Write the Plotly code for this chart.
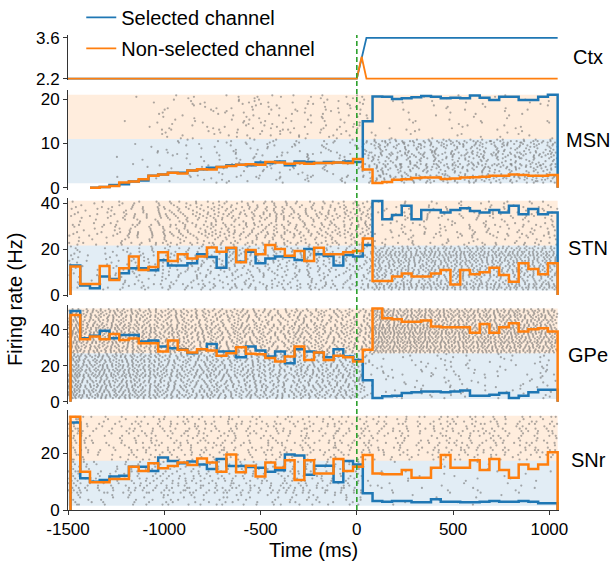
import numpy as np
import plotly.graph_objects as go
from plotly.subplots import make_subplots

# ---------------- data ----------------
# time-bin edges (ms) of the firing-rate histograms
bin_edges = [-1487, -1436.4, -1385.8, -1335.2, -1284.6, -1234, -1183.4, -1132.8, -1082.2, -1031.6,
             -981, -930.4, -879.8, -829.2, -778.6, -728, -677.4, -626.8, -576.2, -525.6,
             -475, -424.4, -373.8, -323.2, -272.6, -222, -171.4, -120.8, -70.2, -19.6,
             31, 81.6, 132.2, 182.8, 233.4, 284, 334.6, 385.2, 435.8, 486.4,
             537, 587.6, 638.2, 688.8, 739.4, 790, 840.6, 891.2, 941.8, 992.4, 1043]

msn_sel = [None, None, 0.0, 0.15, 0.6, 0.8, 1.4, 1.65, 2.7, 3.0,
           3.4, 3.4, 3.9, 4.2, 4.5, 4.7, 5.1, 5.2, 5.1, 5.7,
           5.6, 5.9, 5.1, 5.9, 5.8, 5.6, 5.8, 5.7, 5.9, 5.8,
           15.0, 20.6, 20.5, 20.0, 20.2, 20.4, 20.7, 20.5, 20.2, 20.3,
           20.2, 20.8, 20.3, 19.8, 20.5, 20.5, 19.8, 19.8, 20.5, 21.0]
msn_non = [None, None, 0.0, 0.15, 0.4, 1.2, 1.4, 1.9, 2.7, 3.0,
           3.4, 3.2, 3.9, 4.2, 4.1, 4.7, 4.9, 5.2, 5.3, 5.2,
           5.8, 5.7, 5.4, 5.6, 5.4, 5.6, 5.6, 5.7, 5.6, 6.5,
           4.1, 1.1, 1.3, 1.8, 1.9, 2.2, 2.3, 2.3, 2.0, 2.1,
           2.3, 2.4, 2.5, 2.7, 2.7, 3.0, 2.9, 2.7, 2.7, 2.9]

stn_sel = [12.8, 4.1, 2.9, 8.0, 7.0, 9.5, 11.6, 11.6, 10.8, 15.1,
           12.8, 12.8, 13.8, 17.7, 16.5, 11.9, 20.3, 14.5, 18.8, 13.8,
           15.9, 16.7, 16.5, 15.2, 20.0, 17.7, 17.0, 12.8, 17.4, 16.7,
           21.7, 40.9, 33.0, 34.8, 38.8, 33.0, 37.0, 37.0, 35.9, 37.0,
           37.7, 36.5, 35.9, 37.0, 35.9, 38.8, 35.1, 37.4, 35.1, 35.9]
stn_non = [12.4, 4.8, 4.8, 12.6, 6.5, 11.6, 16.7, 10.9, 12.2, 18.6,
           14.8, 17.7, 15.9, 16.7, 20.7, 18.8, 20.6, 14.2, 19.6, 17.7,
           21.7, 20.0, 17.1, 19.1, 14.8, 20.6, 17.7, 17.7, 18.6, 19.1,
           24.6, 6.1, 6.1, 8.0, 9.4, 8.0, 8.0, 9.4, 10.9, 4.6,
           10.9, 9.0, 9.9, 11.9, 8.7, 5.8, 13.8, 11.3, 9.0, 13.8]

gpe_sel = [50.6, 35.4, 36.7, 39.6, 35.4, 37.2, 37.2, 33.5, 34.1, 30.7,
           29.8, 29.3, 27.0, 29.3, 32.2, 28.0, 28.0, 24.8, 30.7, 28.5,
           25.2, 28.0, 21.5, 29.3, 28.0, 27.4, 24.8, 29.3, 25.2, 23.3,
           11.9, 2.0, 3.0, 3.3, 4.8, 5.2, 5.7, 5.7, 5.2, 5.7,
           6.3, 3.3, 3.3, 3.9, 4.8, 2.0, 3.3, 5.2, 6.7, 6.7]
gpe_non = [48.3, 34.8, 36.3, 34.8, 37.8, 34.4, 35.2, 32.6, 32.6, 28.0,
           34.1, 28.9, 27.4, 29.3, 28.5, 25.6, 27.0, 30.4, 26.7, 26.5,
           24.3, 22.4, 25.2, 30.7, 23.3, 27.4, 23.3, 25.6, 24.8, 22.4,
           28.9, 52.0, 46.5, 45.9, 44.6, 44.6, 45.2, 41.9, 41.5, 41.5,
           41.5, 38.5, 43.3, 38.5, 41.5, 43.7, 39.1, 40.4, 40.9, 39.1]

snr_sel = [30.9, 11.2, 10.0, 10.6, 11.8, 12.1, 15.3, 15.3, 13.8, 18.5,
           17.3, 16.5, 17.1, 16.1, 14.5, 18.0, 15.5, 15.5, 15.2, 14.9,
           13.5, 14.0, 19.6, 19.2, 12.4, 15.6, 15.6, 9.8, 17.3, 16.1,
           5.9, 3.2, 2.9, 3.2, 3.2, 2.7, 2.7, 3.8, 2.9, 2.9,
           2.7, 2.7, 2.9, 3.2, 2.9, 2.9, 3.2, 2.9, 2.4, 2.4]
snr_non = [32.9, 13.5, 9.8, 9.8, 10.9, 10.9, 15.3, 13.8, 16.5, 14.7,
           15.5, 16.8, 15.9, 18.2, 16.8, 13.5, 19.6, 13.3, 15.6, 11.8,
           16.8, 14.9, 17.6, 10.6, 17.6, 12.9, 12.9, 18.0, 13.8, 15.3,
           19.4, 12.9, 12.6, 12.6, 14.1, 11.4, 11.4, 14.9, 19.4, 14.9,
           14.9, 17.6, 14.1, 18.0, 14.1, 11.4, 16.1, 14.5, 16.1, 20.4]

# cortical input (Hz)
ctx_sel_t = [-1500, 0, 50, 1043]
ctx_sel = [2.2, 2.2, 3.6, 3.6]
ctx_non_t = [-1500, 0, 25, 50, 1043]
ctx_non = [2.2, 2.2, 2.95, 2.2, 2.2]

# raster bands: [bottom, split, top] (selected below, non-selected above)
msn_band = [1.0, 11.0, 21.0]
stn_band = [2.0, 21.5, 41.0]
gpe_band = [1.5, 27.0, 52.0]
snr_band = [1.5, 17.4, 33.3]
# number of neurons shown per band, and spiking irregularity, in each raster
raster_neurons = {"MSN": 31, "STN": 25, "GPe": 29, "SNr": 19}
raster_irregularity = {"MSN": 0.9, "STN": 0.5, "GPe": 0.35, "SNr": 0.85}

nuclei = ["MSN", "STN", "GPe", "SNr"]
sel_rates = {"MSN": msn_sel, "STN": stn_sel, "GPe": gpe_sel, "SNr": snr_sel}
non_rates = {"MSN": msn_non, "STN": stn_non, "GPe": gpe_non, "SNr": snr_non}
bands = {"MSN": msn_band, "STN": stn_band, "GPe": gpe_band, "SNr": snr_band}
yticks = {"MSN": [0, 10, 20], "STN": [0, 20, 40], "GPe": [0, 20, 40], "SNr": [0, 20]}
yranges = {"MSN": [-0.5, 22.05], "STN": [-0.87, 42.2], "GPe": [-1.28, 53.9], "SNr": [0, 35.3]}
xtick_vals = [-1500, -1000, -500, 0, 500, 1000]
xtick_text = ["-1500", "-1000", "-500", "0", "500", "1000"]

# ---------------- style ----------------
BLUE = "#1f77b4"
ORANGE = "#ff7f0e"
GREEN = "#2ca02c"
FONT = "Liberation Sans, Arial, sans-serif"
W, H = 614, 565
ML, MR, MT, MB = 68, 55, 35, 55
PH = H - MT - MB


def dom(top_px, bot_px):
    return [(H - MB - bot_px) / PH, (H - MB - top_px) / PH]


domains = [dom(35, 80), dom(90, 190), dom(198, 297), dom(305, 404), dom(410, 510)]


def step_xy(edges, vals):
    start = next(i for i, v in enumerate(vals) if v is not None)
    v = vals[start:]
    e = edges[start:]
    xs = [e[0], e[0]] + list(e[1:-1]) + [e[-1], e[-1]]
    ys = [0, v[0]] + list(v[1:]) + [v[-1], 0]
    if vals[start] == 0:
        xs, ys = xs[1:], ys[1:]
    return xs, ys


def raster(edges, rates, lo, hi, n, mult, irr):
    """Deterministic integrate-and-fire raster driven by the binned rates."""
    t = np.arange(-1500.0, edges[-1], 1.0)
    r_arr = np.array([0.0 if v is None else v for v in rates])
    idx = np.clip(np.searchsorted(edges, t, side="right") - 1, 0, len(rates) - 1)
    r = r_arr[idx]
    xs, ys = [], []
    for j in range(n):
        phase = (j * 0.6180339887 + mult * 0.37) % 1.0
        gain = 0.6 + 0.8 * ((j * 0.4142135 + mult * 0.21) % 1.0)
        c = np.cumsum(r * gain) / 1000.0 + phase
        kmax = int(np.floor(c[-1]))
        if kmax < 1:
            continue
        k = np.arange(1, kmax + 1)
        theta = k + irr * (((k * 0.7548776662 + j * 0.5698402910 + (k * k) * 0.1234567) % 1.0) - 0.5)
        pos = np.searchsorted(c, theta)
        pos = pos[(pos > 0) & (pos < len(t))]
        sp = t[pos]
        slot = (j * mult) % n
        xs.append(sp)
        ys.append(np.full(sp.shape, lo + (slot + 0.5) * (hi - lo) / n))
    return np.concatenate(xs), np.concatenate(ys)


fig = make_subplots(rows=5, cols=1, shared_xaxes=True)

# Ctx panel
fig.add_trace(go.Scatter(x=ctx_sel_t, y=ctx_sel, mode="lines", line=dict(color=BLUE, width=1.8),
                         name="Selected channel", legendgroup="a", showlegend=True), row=1, col=1)
fig.add_trace(go.Scatter(x=ctx_non_t, y=ctx_non, mode="lines", line=dict(color=ORANGE, width=1.8),
                         name="Non-selected channel", legendgroup="b", showlegend=True), row=1, col=1)

shapes = []
for i, nuc in enumerate(nuclei):
    row = i + 2
    lo, mid, hi = bands[nuc]
    yref = "y%d" % row
    shapes.append(dict(type="rect", xref="x%d" % row, yref=yref, x0=-1500, x1=bin_edges[-1],
                       y0=lo, y1=mid, fillcolor="rgba(31,119,180,0.13)", line=dict(width=0), layer="below"))
    shapes.append(dict(type="rect", xref="x%d" % row, yref=yref, x0=-1500, x1=bin_edges[-1],
                       y0=mid, y1=hi, fillcolor="rgba(255,127,14,0.14)", line=dict(width=0), layer="below"))
    n = raster_neurons[nuc]
    irr = raster_irregularity[nuc]
    xs1, ys1 = raster(bin_edges, sel_rates[nuc], lo, mid, n, 11, irr)
    xs2, ys2 = raster(bin_edges, non_rates[nuc], mid, hi, n, 7, irr)
    fig.add_trace(go.Scatter(x=np.concatenate([xs1, xs2]), y=np.concatenate([ys1, ys2]), mode="markers",
                             marker=dict(size=2.2, color="rgba(105,105,105,0.55)", line=dict(width=0)),
                             showlegend=False, hoverinfo="skip"), row=row, col=1)
    sx, sy = step_xy(bin_edges, sel_rates[nuc])
    fig.add_trace(go.Scatter(x=sx, y=sy, mode="lines", line=dict(color=BLUE, width=2.5, shape="hv"),
                             showlegend=False), row=row, col=1)
    nx, ny = step_xy(bin_edges, non_rates[nuc])
    fig.add_trace(go.Scatter(x=nx, y=ny, mode="lines", line=dict(color=ORANGE, width=2.5, shape="hv"),
                             showlegend=False), row=row, col=1)

# stimulus onset line
shapes.append(dict(type="line", xref="x5", yref="paper", x0=0, x1=0, y0=0, y1=1.0,
                   line=dict(color=GREEN, width=1.6, dash="5px,3px")))

axis_common = dict(showgrid=False, zeroline=False, showline=True, linecolor="#333333", linewidth=1,
                   ticks="outside", ticklen=4, tickcolor="#333333", tickwidth=1,
                   tickfont=dict(size=17, color="black", family=FONT))

layout = dict(width=W, height=H, margin=dict(l=ML, r=MR, t=MT, b=MB, autoexpand=False),
              paper_bgcolor="white", plot_bgcolor="white",
              font=dict(family=FONT, color="black"),
              shapes=shapes,
              legend=dict(x=0.027, y=1.078, xanchor="left", yanchor="top", font=dict(size=20, family=FONT),
                          bgcolor="rgba(0,0,0,0)", tracegroupgap=2, itemwidth=30))

for r in range(1, 6):
    xa = dict(range=[-1500, 1050], showgrid=False, zeroline=False)
    if r < 5:
        xa.update(showline=False, showticklabels=False, ticks="")
    else:
        xa.update(axis_common)
        xa.update(tickvals=xtick_vals, ticktext=xtick_text)
    layout["xaxis" if r == 1 else "xaxis%d" % r] = xa
    ya = dict(axis_common)
    ya["domain"] = domains[r - 1]
    if r == 1:
        ya.update(range=[2.15, 3.70], tickvals=[2.2, 3.6], ticktext=["2.2", "3.6"])
    else:
        nuc = nuclei[r - 2]
        ya.update(range=yranges[nuc], tickvals=yticks[nuc])
    layout["yaxis" if r == 1 else "yaxis%d" % r] = ya

fig.update_layout(**layout)

labels = ["Ctx"] + nuclei
ann = []
for r, lab in enumerate(labels, start=1):
    ann.append(dict(text=lab, xref="paper", x=1.06, xanchor="center",
                    yref=("y domain" if r == 1 else "y%d domain" % r), y=0.5, yanchor="middle",
                    showarrow=False, font=dict(size=20, family=FONT, color="black")))
ann.append(dict(text="Firing rate (Hz)", xref="paper", yref="paper", x=(15 - ML) / (W - ML - MR),
                y=(H - MB - 300) / PH, textangle=-90, showarrow=False, xanchor="center", yanchor="middle",
                font=dict(size=20, family=FONT, color="black")))
ann.append(dict(text="Time (ms)", xref="paper", yref="paper", x=0.5, y=(H - MB - 550) / PH,
                showarrow=False, xanchor="center", yanchor="middle",
                font=dict(size=20, family=FONT, color="black")))
fig.update_layout(annotations=ann)

fig.write_html("out.html")
